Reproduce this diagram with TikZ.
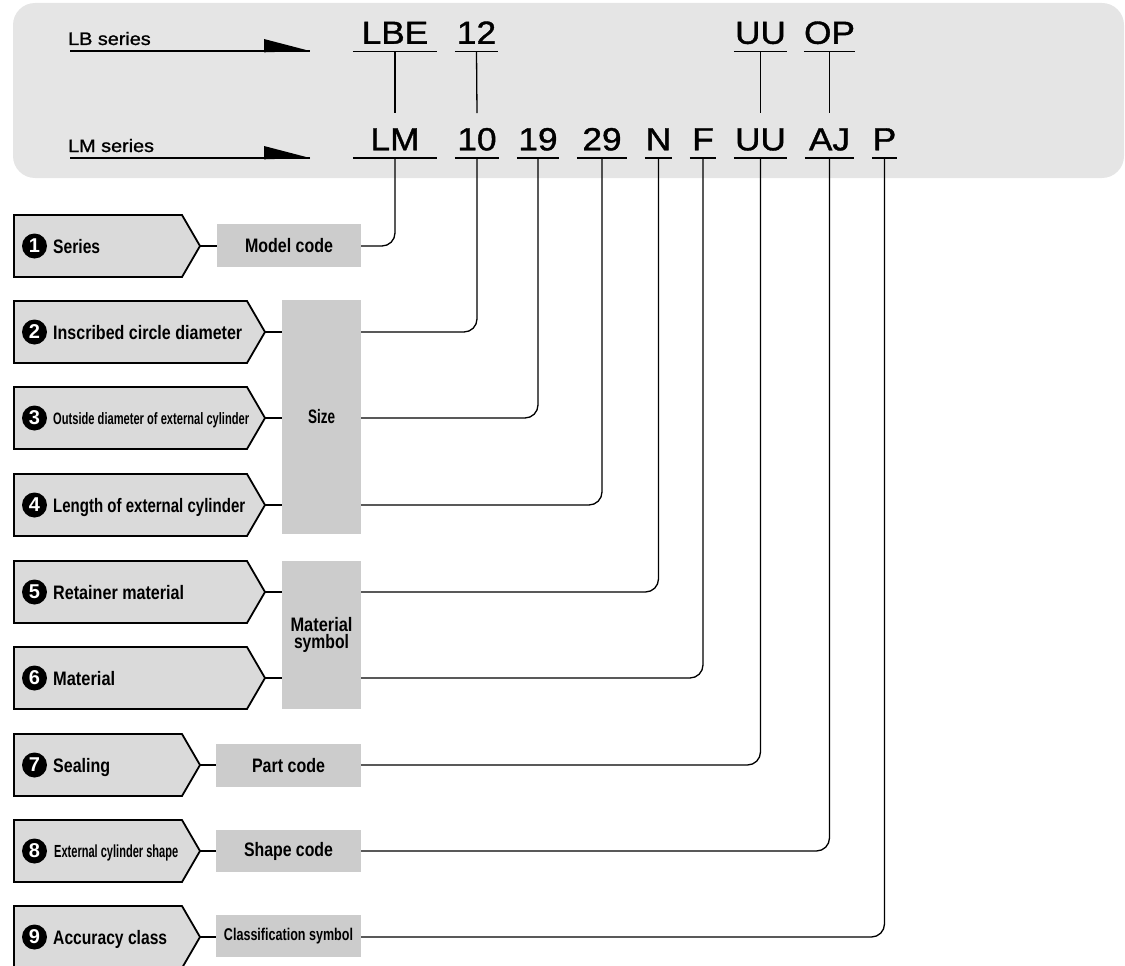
\documentclass[tikz,border=0pt]{standalone}
\usepackage{fontspec}
\usepackage{graphicx}
\setmainfont{Liberation Sans}
\newfontfamily\codefont{Liberation Sans}[FakeStretch=1.1,FakeBold=1.2]
\definecolor{bandg}{HTML}{E5E5E5}
\definecolor{pentg}{HTML}{DADADA}
\definecolor{boxg}{HTML}{CCCCCC}
\newcommand{\lbl}[3]{\resizebox{#1pt}{\height}{\fontsize{#2pt}{#2pt}\selectfont\bfseries #3}}
\tikzset{
  codeS/.style={font=\codefont\fontsize{32pt}{32pt}\selectfont, inner sep=0pt,
    text height=23pt, text depth=7.5pt, anchor=south},
  uline/.style={line width=1.6pt},
  conn/.style={line width=1.3pt},
  rc/.style={rounded corners=13pt},
  pentS/.style={draw=black, line width=1.8pt, fill=pentg, line join=miter},
  numc/.style={circle, fill=black, text=white, minimum size=25pt, inner sep=0pt,
    font=\bfseries\fontsize{20pt}{20pt}\selectfont},
  labS/.style={anchor=base west, inner sep=0pt},
  boxS/.style={fill=boxg, draw=none, inner sep=0pt, align=center},
  serS/.style={anchor=base west, inner sep=0pt, font=\codefont\fontsize{18pt}{18pt}\selectfont}
}
\newcommand{\mkpent}[3]{%
  \draw[pentS] (14,#2-31) -- (#3,#2-31) -- (#3+18,#2) -- (#3,#2+31) -- (14,#2+31) -- cycle;
  \coordinate (#1) at (#3+18,#2);
}
\begin{document}
\begin{tikzpicture}[x=1pt,y=-1pt]
\useasboundingbox (0,0) rectangle (1125,966);
% header band
\fill[bandg, rounded corners=22pt] (13,3) rectangle (1124,178);
% series labels
\node[serS] (lbs) at (68,45) {LB series};
\node[serS] (lms) at (68,152) {LM series};
\coordinate (lbA) at (70,51);  \coordinate (lbB) at (310,51);
\coordinate (lmA) at (70,158); \coordinate (lmB) at (310,158);
\draw[uline] (lbA) -- (lbB);
\fill (264,39) -- (lbB) -- (264,52.3) -- cycle;
\draw[uline] (lmA) -- (lmB);
\fill (264,146) -- (lmB) -- (264,159.3) -- cycle;
% top codes
\node[codeS, minimum width=84pt] (lbe) at (395,51.5) {LBE};
\node[codeS, minimum width=43pt] (t12) at (476.5,51.5) {12};
\node[codeS, minimum width=53pt] (tuu) at (760.5,51.5) {UU};
\node[codeS, minimum width=49pt] (top) at (829.5,51.5) {OP};
% bottom codes
\node[codeS, minimum width=84pt] (lm) at (395,158) {LM};
\node[codeS, minimum width=44pt] (c10) at (477,158) {10};
\node[codeS, minimum width=42pt] (c19) at (538,158) {19};
\node[codeS, minimum width=50pt] (c29) at (602,158) {29};
\node[codeS, minimum width=27pt] (cn) at (658.5,158) {N};
\node[codeS, minimum width=26pt] (cf) at (703,158) {F};
\node[codeS, minimum width=53pt] (cuu) at (760.5,158) {UU};
\node[codeS, minimum width=49pt] (caj) at (829.5,158) {AJ};
\node[codeS, minimum width=25pt] (cp) at (884.5,158) {P};
\foreach \n in {lbe,t12,tuu,top,lm,c10,c19,c29,cn,cf,cuu,caj,cp}
  \draw[uline] (\n.south west) -- (\n.south east);
\draw[conn] (lbe.south) -- ([yshift=14pt]lm.north);
\draw[conn] (t12.south) -- ([yshift=14pt]c10.north);
\draw[conn] (tuu.south) -- ([yshift=14pt]cuu.north);
\draw[conn] (top.south) -- ([yshift=14pt]caj.north);
% pentagons
\mkpent{p1}{246}{182}
\mkpent{p2}{332}{247}
\mkpent{p3}{418}{247}
\mkpent{p4}{505}{247}
\mkpent{p5}{592}{247}
\mkpent{p6}{678}{247}
\mkpent{p7}{765}{182}
\mkpent{p8}{851}{182}
\mkpent{p9}{937}{182}
% numbers
\node[numc] (n1) at (34.5,246) {1};
\node[numc] (n2) at (34.5,332) {2};
\node[numc] (n3) at (34.5,418) {3};
\node[numc] (n4) at (34.5,505) {4};
\node[numc] (n5) at (34.5,592) {5};
\node[numc] (n6) at (34.5,678) {6};
\node[numc] (n7) at (34.5,765) {7};
\node[numc] (n8) at (34.5,851) {8};
\node[numc] (n9) at (34.5,937) {9};
% labels
\node[labS] (l1) at (53,253) {\lbl{47}{19.5}{Series}};
\node[labS] (l2) at (53,339) {\lbl{189}{19.5}{Inscribed circle diameter}};
\node[labS] (l3) at (53,424) {\lbl{196}{16.5}{Outside diameter of external cylinder}};
\node[labS] (l4) at (53,512) {\lbl{192}{19.5}{Length of external cylinder}};
\node[labS] (l5) at (53,599) {\lbl{131}{19.5}{Retainer material}};
\node[labS] (l6) at (53,685) {\lbl{62}{19.5}{Material}};
\node[labS] (l7) at (53,772) {\lbl{57}{19.5}{Sealing}};
\node[labS] (l8) at (54,857.5) {\lbl{124}{17.5}{External cylinder shape}};
\node[labS] (l9) at (53,944) {\lbl{114}{19.5}{Accuracy class}};
% boxes
\node[boxS, minimum width=144pt, minimum height=43pt] (b1) at (289,245.5) {\lbl{88}{19.5}{Model code}};
\node[boxS, minimum width=79pt, minimum height=234pt] (bsize) at (321.5,417) {\lbl{27}{19.5}{Size}};
\node[boxS, minimum width=79pt, minimum height=148pt, font=\fontsize{19.5pt}{17.5pt}\selectfont] (bmat) at (321.5,635) {\lbl{62}{19.5}{Material}\\\lbl{55}{19.5}{symbol}};
\node[boxS, minimum width=145pt, minimum height=43pt] (b7) at (288.5,765.5) {\lbl{73}{19.5}{Part code}};
\node[boxS, minimum width=145pt, minimum height=42pt] (b8) at (288.5,851) {\lbl{89}{19.5}{Shape code}};
\node[boxS, minimum width=145pt, minimum height=42pt] (b9) at (288.5,936) {\lbl{129}{17}{Classification symbol}};
% tip-to-box connectors
\draw[conn] (p1) -- (p1 -| b1.west);
\draw[conn] (p2) -- (p2 -| bsize.west);
\draw[conn] (p3) -- (p3 -| bsize.west);
\draw[conn] (p4) -- (p4 -| bsize.west);
\draw[conn] (p5) -- (p5 -| bmat.west);
\draw[conn] (p6) -- (p6 -| bmat.west);
\draw[conn] (p7) -- (p7 -| b7.west);
\draw[conn] (p8) -- (p8 -| b8.west);
\draw[conn] (p9) -- (p9 -| b9.west);
% box-to-code connectors
\draw[conn, rc] (p1 -| b1.east) -| (lm.south);
\draw[conn, rc] (p2 -| bsize.east) -| (c10.south);
\draw[conn, rc] (p3 -| bsize.east) -| (c19.south);
\draw[conn, rc] (p4 -| bsize.east) -| (c29.south);
\draw[conn, rc] (p5 -| bmat.east) -| (cn.south);
\draw[conn, rc] (p6 -| bmat.east) -| (cf.south);
\draw[conn, rc] (p7 -| b7.east) -| (cuu.south);
\draw[conn, rc] (p8 -| b8.east) -| (caj.south);
\draw[conn, rc] (p9 -| b9.east) -| (cp.south);
\end{tikzpicture}
\end{document}
